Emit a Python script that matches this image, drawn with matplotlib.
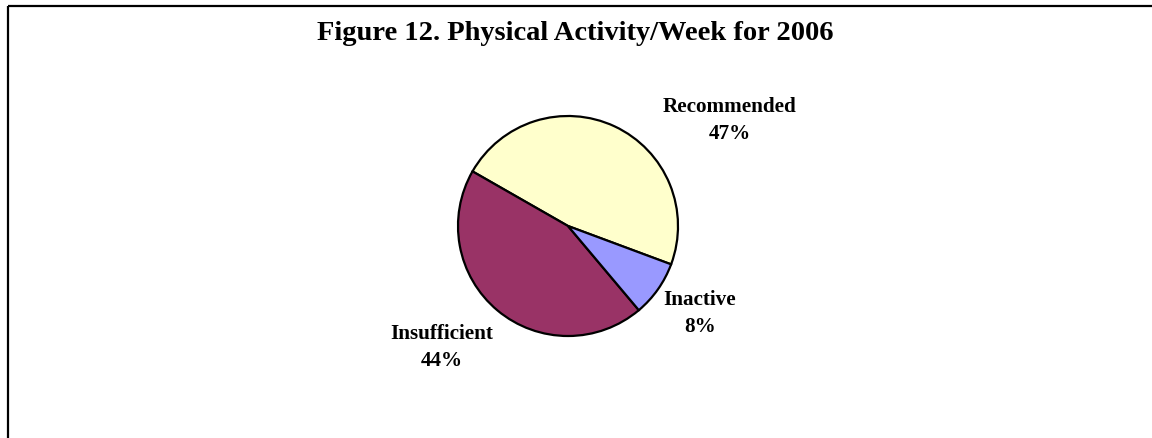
import matplotlib
matplotlib.use("Agg")
import matplotlib.pyplot as plt

# data
categories = ["Recommended", "Insufficient", "Inactive"]
shares = [47.4, 44.4, 8.2]
pct_labels = ["47%", "44%", "8%"]
colors = ["#FFFFCC", "#993366", "#9999FF"]

W, H = 1152, 438
fig = plt.figure(figsize=(W / 100, H / 100), dpi=100)
ax = fig.add_axes([0, 0, 1, 1])

serif = "Liberation Serif"

ax.pie(shares, colors=colors, startangle=-20.4, counterclock=True,
       center=(568, H - 226), radius=110, frame=True,
       wedgeprops=dict(edgecolor="black", linewidth=1.6))
ax.set_xlim(0, W)
ax.set_ylim(0, H)
ax.set_aspect("equal")
ax.axis("off")

# outer frame (only left and top edges fall inside the picture)
ax.plot([8, 8], [0, H - 6], color="black", lw=1.6, solid_capstyle="butt")
ax.plot([8, W], [H - 6, H - 6], color="black", lw=1.6, solid_capstyle="butt")

ax.text(575, H - 40, "Figure 12. Physical Activity/Week for 2006",
        ha="center", va="baseline", fontsize=20.5, fontweight="bold", family=serif)

# label baselines (pixels from top-left): x centre, first line, second line
label_pos = [(730, 112, 139), (442, 339, 366), (700, 305, 332)]
for name, pct, (x, y1, y2) in zip(categories, pct_labels, label_pos):
    ax.text(x, H - y1, name, ha="center", va="baseline",
            fontsize=15.2, fontweight="bold", family=serif)
    ax.text(x, H - y2, pct, ha="center", va="baseline",
            fontsize=15.2, fontweight="bold", family=serif)

fig.savefig("out.png", dpi=100)
